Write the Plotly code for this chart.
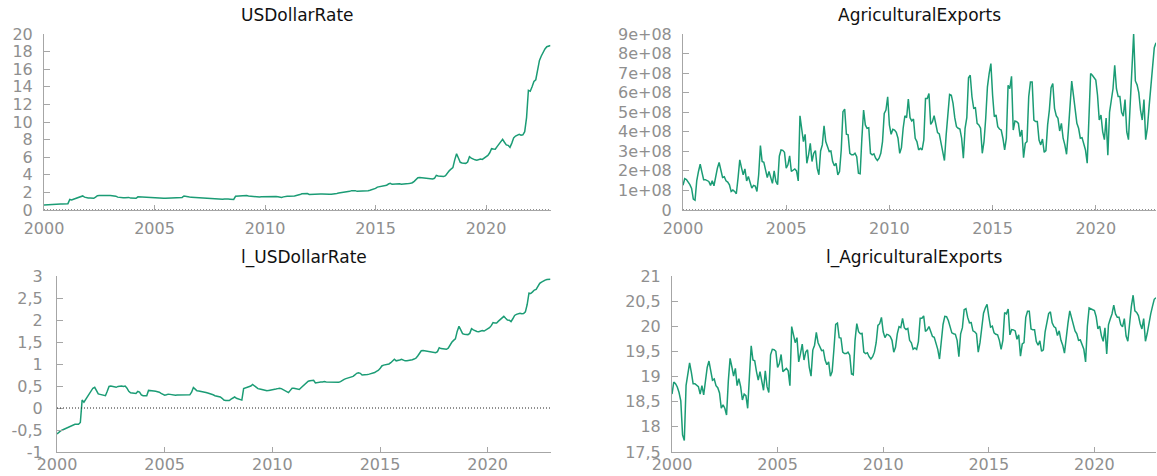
import numpy as np
import plotly.graph_objects as go

W, H = 1157, 476

# Monthly observations, January 2000 to December 2022 (one row per year)
usd_rate = [
    0.554, 0.577, 0.595, 0.607, 0.619, 0.631, 0.644, 0.657, 0.670, 0.684, 0.691, 0.691,
    0.691, 0.719, 1.197, 1.139, 1.221, 1.297, 1.377, 1.462, 1.568, 1.600, 1.462, 1.377,
    1.363, 1.350, 1.336, 1.323, 1.462, 1.632, 1.649, 1.632, 1.616, 1.600, 1.632, 1.649,
    1.649, 1.632, 1.649, 1.568, 1.462, 1.412, 1.405, 1.391, 1.391, 1.455, 1.433, 1.350,
    1.323, 1.323, 1.323, 1.492, 1.477, 1.470, 1.470, 1.462, 1.448, 1.433, 1.391, 1.350,
    1.336, 1.350, 1.370, 1.363, 1.350, 1.336, 1.336, 1.343, 1.343, 1.336, 1.336, 1.336,
    1.336, 1.336, 1.350, 1.433, 1.595, 1.537, 1.477, 1.470, 1.462, 1.448, 1.433, 1.419,
    1.405, 1.391, 1.377, 1.350, 1.323, 1.310, 1.297, 1.284, 1.246, 1.197, 1.185, 1.185,
    1.185, 1.221, 1.259, 1.284, 1.246, 1.234, 1.209, 1.197, 1.553, 1.576, 1.584, 1.600,
    1.649, 1.707, 1.649, 1.584, 1.553, 1.537, 1.522, 1.507, 1.492, 1.477, 1.492, 1.499,
    1.507, 1.522, 1.537, 1.553, 1.568, 1.553, 1.522, 1.499, 1.462, 1.419, 1.492, 1.568,
    1.568, 1.553, 1.537, 1.522, 1.584, 1.649, 1.682, 1.751, 1.840, 1.859, 1.878, 1.878,
    1.768, 1.786, 1.804, 1.804, 1.804, 1.822, 1.804, 1.804, 1.786, 1.786, 1.786, 1.795,
    1.800, 1.800, 1.820, 1.880, 1.920, 1.950, 1.970, 1.990, 2.010, 2.050, 2.120, 2.200,
    2.230, 2.200, 2.120, 2.120, 2.130, 2.140, 2.160, 2.180, 2.200, 2.240, 2.300, 2.350,
    2.450, 2.600, 2.650, 2.670, 2.690, 2.720, 2.800, 2.950, 3.030, 2.920, 2.930, 2.980,
    3.030, 2.970, 2.920, 2.920, 2.930, 2.950, 3.000, 3.040, 3.100, 3.260, 3.500, 3.670,
    3.700, 3.670, 3.640, 3.620, 3.580, 3.520, 3.520, 3.520, 3.600, 3.940, 3.860, 3.860,
    3.850, 3.800, 3.900, 4.200, 4.450, 4.650, 4.810, 5.700, 6.400, 5.900, 5.420, 5.350,
    5.340, 5.300, 5.450, 6.060, 5.900, 5.750, 5.700, 5.650, 5.720, 5.800, 5.750, 5.900,
    6.050, 6.200, 6.500, 6.970, 6.920, 6.900, 7.200, 7.500, 7.800, 8.030, 7.700, 7.400,
    7.350, 7.120, 7.600, 8.200, 8.400, 8.500, 8.600, 8.500, 8.550, 8.900, 10.500, 13.600,
    13.500, 14.000, 14.600, 14.800, 16.000, 17.000, 17.500, 18.000, 18.300, 18.550, 18.600, 18.700,
]

# Agricultural exports, in units of 1e8
agri_exports_e8 = [
    1.26, 1.60, 1.55, 1.45, 1.30, 1.10, 0.56, 0.50, 1.50, 1.97, 2.34, 1.94,
    1.55, 1.55, 1.49, 1.46, 1.26, 1.49, 1.24, 1.71, 2.14, 2.43, 2.05, 1.66,
    1.70, 1.49, 1.43, 1.29, 0.95, 1.02, 0.95, 0.83, 1.63, 2.56, 2.17, 1.80,
    2.10, 1.49, 1.71, 1.46, 1.12, 1.26, 1.22, 0.95, 1.80, 3.29, 2.48, 2.44,
    1.97, 1.66, 1.97, 1.63, 1.36, 2.00, 1.46, 1.30, 2.75, 3.07, 3.05, 2.95,
    2.14, 2.31, 2.77, 1.97, 2.05, 2.10, 2.00, 1.49, 4.82, 4.18, 3.50, 3.87,
    2.39, 2.82, 3.41, 2.48, 2.90, 3.04, 2.14, 1.80, 3.02, 3.33, 4.30, 3.50,
    3.21, 2.99, 3.02, 2.48, 2.26, 2.39, 1.80, 1.97, 3.07, 5.03, 5.16, 3.87,
    3.84, 2.90, 2.82, 2.82, 2.90, 2.73, 1.88, 1.85, 3.67, 5.11, 4.35, 4.18,
    4.21, 2.90, 2.82, 2.87, 2.65, 2.53, 2.65, 2.90, 3.50, 4.94, 5.11, 5.79,
    4.35, 3.87, 4.13, 4.09, 3.97, 3.67, 2.90, 3.19, 4.18, 4.82, 4.72, 5.67,
    4.72, 4.55, 4.65, 3.67, 3.50, 3.07, 3.16, 3.07, 3.58, 5.70, 5.70, 5.96,
    4.38, 4.52, 4.82, 4.35, 3.96, 3.89, 3.41, 3.07, 2.53, 3.84, 5.03, 5.91,
    5.87, 5.45, 4.72, 4.26, 4.18, 4.14, 3.67, 2.65, 4.18, 4.72, 6.76, 6.89,
    5.79, 5.20, 5.23, 4.43, 4.35, 4.18, 2.90, 3.50, 4.69, 6.30, 6.98, 7.49,
    5.87, 4.77, 4.86, 4.26, 4.14, 4.09, 3.67, 3.07, 3.67, 6.38, 6.21, 6.84,
    4.09, 4.55, 4.52, 4.43, 3.75, 4.09, 2.68, 3.41, 3.50, 5.79, 6.55, 6.55,
    4.60, 4.52, 4.52, 3.58, 3.33, 3.63, 2.95, 3.04, 4.35, 5.11, 6.25, 6.47,
    5.20, 4.82, 4.69, 4.04, 4.43, 3.67, 3.33, 2.85, 4.01, 5.20, 6.59, 5.87,
    5.03, 4.43, 4.18, 3.67, 3.70, 3.41, 3.07, 2.39, 4.86, 6.98, 6.89, 6.75,
    6.64, 5.87, 4.60, 4.86, 4.01, 3.60, 4.70, 2.80, 5.00, 5.60, 6.20, 7.40,
    6.20, 5.80, 5.80, 5.00, 4.80, 5.65, 4.00, 3.60, 5.50, 7.20, 9.00, 6.60,
    6.40, 6.00, 5.10, 4.60, 5.65, 3.60, 4.20, 5.30, 6.20, 7.20, 8.30, 8.55,
]

start_year = 2000
year_ticks = [2000, 2005, 2010, 2015, 2020]

usd_tick_vals = [0, 2, 4, 6, 8, 10, 12, 14, 16, 18, 20]
agri_tick_vals = [0, 1e8, 2e8, 3e8, 4e8, 5e8, 6e8, 7e8, 8e8, 9e8]
agri_tick_text = ["0", "1e+08", "2e+08", "3e+08", "4e+08", "5e+08",
                  "6e+08", "7e+08", "8e+08", "9e+08"]
l_usd_tick_vals = [-1, -0.5, 0, 0.5, 1, 1.5, 2, 2.5, 3]
l_usd_tick_text = ["-1", "-0,5", "0", "0,5", "1", "1,5", "2", "2,5", "3"]
l_agri_tick_vals = [17.5, 18, 18.5, 19, 19.5, 20, 20.5, 21]
l_agri_tick_text = ["17,5", "18", "18,5", "19", "19,5", "20", "20,5", "21"]

titles = ["USDollarRate", "AgriculturalExports", "l_USDollarRate", "l_AgriculturalExports"]

# derived series
usd = np.array(usd_rate)
agri = np.array(agri_exports_e8) * 1e8
t = start_year + np.arange(len(usd)) / 12.0
l_usd = np.log(usd)
l_agri = np.log(agri)

LINE = "#1b9c75"
AXIS = "#a6a6a6"
TICKFONT = dict(family="DejaVu Sans", size=16, color="#8f8f8f")
TITLEFONT = dict(family="DejaVu Sans", size=17, color="#111111")

# plot-area boxes in pixels: (left, right, top, bottom, x-label standoff, y-label standoff)
boxes = [
    (44, 550.5, 34, 210, 4, 7),
    (683, 1156, 34, 210, 4, 7),
    (57, 550.5, 276, 452, -2, 10),
    (672, 1156, 276, 452, -2, 7),
]

def xdom(l, r):
    return [l / W, r / W]

def ydom(top, bot):
    return [1 - bot / H, 1 - top / H]

fig = go.Figure()

panels = [
    (usd, [0, 20], usd_tick_vals, [str(v) for v in usd_tick_vals], True),
    (agri, [0, 9e8], agri_tick_vals, agri_tick_text, True),
    (l_usd, [-1, 3], l_usd_tick_vals, l_usd_tick_text, True),
    (l_agri, [17.5, 21], l_agri_tick_vals, l_agri_tick_text, False),
]

layout = {}
shapes = []
annotations = []
for i, ((series, yr, tv, tt, zero), box, title) in enumerate(zip(panels, boxes, titles)):
    n = i + 1
    xa = "x" if n == 1 else f"x{n}"
    ya = "y" if n == 1 else f"y{n}"
    fig.add_trace(go.Scatter(
        x=t, y=series, mode="lines",
        line=dict(color=LINE, width=1.5),
        xaxis=xa, yaxis=ya, showlegend=False, hoverinfo="skip",
    ))
    l, r, top, bot, xstand, ystand = box
    xkey = "xaxis" if n == 1 else f"xaxis{n}"
    ykey = "yaxis" if n == 1 else f"yaxis{n}"
    layout[xkey] = dict(
        domain=xdom(l, r), anchor=ya, range=[t[0], t[-1]],
        tickvals=year_ticks, ticktext=[str(y) for y in year_ticks],
        ticks="inside", ticklen=5, tickwidth=1, tickcolor=AXIS,
        showline=True, linecolor=AXIS, linewidth=1, mirror=False,
        showgrid=False, zeroline=False, tickfont=TICKFONT,
        ticklabelstandoff=xstand, automargin=False, fixedrange=True,
    )
    layout[ykey] = dict(
        domain=ydom(top, bot), anchor=xa, range=yr,
        tickvals=tv, ticktext=tt,
        ticks="inside", ticklen=6, tickwidth=1, tickcolor=AXIS,
        showline=True, linecolor=AXIS, linewidth=1, mirror=False,
        showgrid=False, zeroline=False, tickfont=TICKFONT,
        ticklabelstandoff=ystand, automargin=False, fixedrange=True,
    )
    if zero:
        shapes.append(dict(
            type="line", xref=f"{xa} domain", yref=ya,
            x0=0, x1=1, y0=0, y1=0, layer="above",
            line=dict(color="#222222", width=1, dash="1px,2px"),
        ))
    annotations.append(dict(
        text=title, xref="paper", yref="paper",
        x=(l + r) / 2 / W, y=1 - (top - 19) / H,
        xanchor="center", yanchor="middle", showarrow=False, font=TITLEFONT,
    ))

fig.update_layout(
    width=W, height=H,
    margin=dict(l=0, r=0, t=0, b=0, autoexpand=False),
    paper_bgcolor="white", plot_bgcolor="white",
    shapes=shapes, annotations=annotations,
    **layout,
)

fig.write_html("out.html")
